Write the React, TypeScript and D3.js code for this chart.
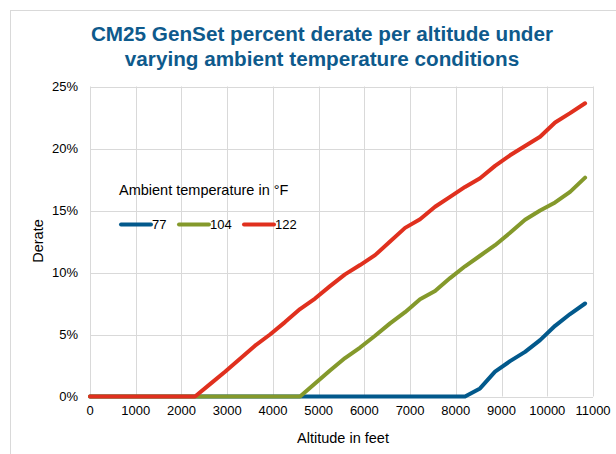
import React from "react";
import * as d3 from "d3";

const altitudes = [0, 328, 656, 984, 1312, 1640, 1969, 2297, 2625, 2953, 3281, 3609, 3937, 4265, 4593, 4921, 5249, 5577, 5906, 6234, 6562, 6890, 7218, 7546, 7874, 8202, 8530, 8858, 9186, 9514, 9843, 10171, 10499, 10827];
const derate77 = [0, 0, 0, 0, 0, 0, 0, 0, 0, 0, 0, 0, 0, 0, 0, 0, 0, 0, 0, 0, 0, 0, 0, 0, 0, 0, 0.65, 2.0, 2.85, 3.6, 4.55, 5.7, 6.65, 7.5];
const derate104 = [0, 0, 0, 0, 0, 0, 0, 0, 0, 0, 0, 0, 0, 0, 0, 1.05, 2.1, 3.1, 3.95, 4.9, 5.9, 6.8, 7.85, 8.5, 9.55, 10.5, 11.35, 12.2, 13.2, 14.25, 15.0, 15.65, 16.5, 17.65];
const derate122 = [0, 0, 0, 0, 0, 0, 0, 0, 1.0, 2.0, 3.05, 4.1, 5.0, 6.0, 7.05, 7.9, 8.9, 9.85, 10.6, 11.4, 12.5, 13.6, 14.3, 15.3, 16.1, 16.9, 17.6, 18.6, 19.45, 20.2, 20.95, 22.1, 22.85, 23.65];
const seriesNames = ["77", "104", "122"];
const seriesColors = ["#02598c", "#84992b", "#e0301e"];
const xTicks = [0, 1000, 2000, 3000, 4000, 5000, 6000, 7000, 8000, 9000, 10000, 11000];
const yTicks = [0, 5, 10, 15, 20, 25];

const W = 616, H = 454;
const L = 90, R = 593, T = 86.5, B = 396.5;
const font = "'Liberation Sans', Arial, sans-serif";

export default function App() {
  const x = d3.scaleLinear().domain([0, 11000]).range([L, R]);
  const y = d3.scaleLinear().domain([0, 25]).range([B, T]);
  const line = d3.line<number>().x((_, i) => x(altitudes[i])).y((v) => y(v));
  const data = [derate77, derate104, derate122];
  const order = [0, 1, 2];
  return (
    <svg width={W} height={H} style={{ position: "absolute", left: 0, top: 0, background: "#fff" }} fontFamily={font}>
      <rect x={10.5} y={10.5} width={700} height={600} fill="#fff" stroke="#d9d9d9" />
      <text x={322} y={41} textAnchor="middle" fontSize={20.7} fontWeight="bold" fill="#0e5a8c">CM25 GenSet percent derate per altitude under</text>
      <text x={322} y={66} textAnchor="middle" fontSize={20.7} fontWeight="bold" fill="#0e5a8c">varying ambient temperature conditions</text>
      {yTicks.map((t) => (
        <line key={"gy" + t} x1={L} x2={R} y1={Math.round(y(t)) + 0.5} y2={Math.round(y(t)) + 0.5} stroke="#d9d9d9" />
      ))}
      {xTicks.map((t) => (
        <line key={"gx" + t} x1={Math.round(x(t)) + 0.5} x2={Math.round(x(t)) + 0.5} y1={T} y2={B} stroke="#d9d9d9" />
      ))}
      {yTicks.map((t) => (
        <text key={"ty" + t} x={78} y={y(t) + 4.5} textAnchor="end" fontSize={13} fill="#000">{t + "%"}</text>
      ))}
      {xTicks.map((t) => (
        <text key={"tx" + t} x={x(t)} y={415} textAnchor="middle" fontSize={13} fill="#000">{String(t)}</text>
      ))}
      <text x={343} y={443} textAnchor="middle" fontSize={14.5} fill="#000">Altitude in feet</text>
      <text transform="translate(43,241) rotate(-90)" textAnchor="middle" fontSize={14.5} fill="#000">Derate</text>
      {order.map((k) => (
        <path key={"s" + k} d={line(data[k]) || ""} fill="none" stroke={seriesColors[k]} strokeWidth={4} strokeLinejoin="round" strokeLinecap="round" />
      ))}
      <text x={119} y={195} fontSize={14.5} fill="#000">Ambient temperature in °F</text>
      {seriesNames.map((n, i) => {
        const lx = [121, 179, 244][i];
        return (
          <g key={"lg" + n}>
            <line x1={lx} x2={lx + 30} y1={224.5} y2={224.5} stroke={seriesColors[i]} strokeWidth={4} strokeLinecap="round" />
            <text x={lx + 31} y={229} fontSize={13} fill="#000">{n}</text>
          </g>
        );
      })}
    </svg>
  );
}
